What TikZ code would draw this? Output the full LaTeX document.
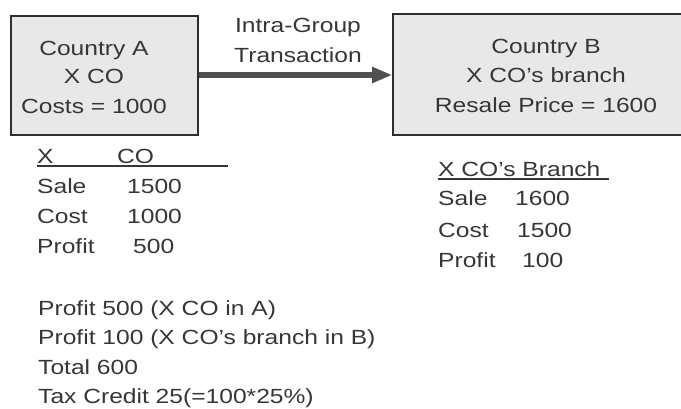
\documentclass[tikz,border=0pt]{standalone}
\usepackage{fontspec}
\setmainfont[FakeStretch=1.2]{Liberation Sans}
\usetikzlibrary{arrows.meta}
\definecolor{ink}{HTML}{363636}
\definecolor{boxfill}{HTML}{E8E8E8}
\definecolor{boxline}{HTML}{2E2E2E}
\definecolor{arrowcol}{HTML}{505050}
\tikzset{
  txt/.style={anchor=base west, inner sep=0pt, text=ink, font=\fontsize{20.5}{29}\selectfont},
  ctxt/.style={anchor=base, inner sep=0pt, text=ink, font=\fontsize{20.5}{29}\selectfont},
  country/.style={draw=boxline, line width=1.6pt, fill=boxfill, rectangle, inner sep=0pt},
  flow/.style={draw=arrowcol, line width=5.5pt, -{Triangle[length=20pt,width=15pt]}},
  rule/.style={draw=ink, line width=1.8pt}
}
\begin{document}
\begin{tikzpicture}[x=1pt,y=-1pt]
\useasboundingbox (0,0) rectangle (681,408);
\clip (0,0) rectangle (681,408);

% the two entities
\node[country, minimum width=187pt, minimum height=119pt] (A) at (104.5,75.3) {};
\node[country, minimum width=320pt, minimum height=121pt] (B) at (553,74.5) {};

\node[ctxt] (a1) at (94,55) {Country A};
\node[ctxt] (a2) at (94,83) {X CO};
\node[ctxt] (a3) at (94,113) {Costs = 1000};

\node[ctxt] (b1) at (546,53) {Country B};
\node[ctxt] (b2) at (546,82) {X CO’s branch};
\node[ctxt] (b3) at (546,112) {Resale Price = 1600};

% the transaction between them
\draw[flow] (A.east |- 0,75) -- (B.west |- 0,75);
\node[ctxt] (t1) at (298,32) {Intra-Group};
\node[ctxt] (t2) at (298,62) {Transaction};

% profit and loss of X CO
\node[txt] (lh1) at (37,163) {X};
\node[txt] (lh2) at (117,163) {CO};
\coordinate (lu1) at (37,166);
\coordinate (lu2) at (228,166);
\draw[rule] (lu1) -- (lu2);
\node[txt] (ls) at (37,193) {Sale};
\node[txt] (lc) at (37,223) {Cost};
\node[txt] (lp) at (37,253) {Profit};
\node[txt] (lsv) at (127,193) {1500};
\node[txt] (lcv) at (127,223) {1000};
\node[txt] (lpv) at (133,253) {500};

% profit and loss of the branch
\node[txt] (rh) at (438,176) {X CO’s Branch};
\coordinate (ru1) at (438,179);
\coordinate (ru2) at (609,179);
\draw[rule] (ru1) -- (ru2);
\node[txt] (rs) at (438,205) {Sale};
\node[txt] (rc) at (438,237) {Cost};
\node[txt] (rp) at (438,267) {Profit};
\node[txt] (rsv) at (515,205) {1600};
\node[txt] (rcv) at (517,237) {1500};
\node[txt] (rpv) at (522,267) {100};

% summary
\node[txt] (s1) at (38,315) {Profit 500 (X CO in A)};
\node[txt] (s2) at (38,344) {Profit 100 (X CO’s branch in B)};
\node[txt] (s3) at (38,374) {Total 600};
\node[txt] (s4) at (38,403) {Tax Credit 25(=100*25\%)};
\end{tikzpicture}
\end{document}
